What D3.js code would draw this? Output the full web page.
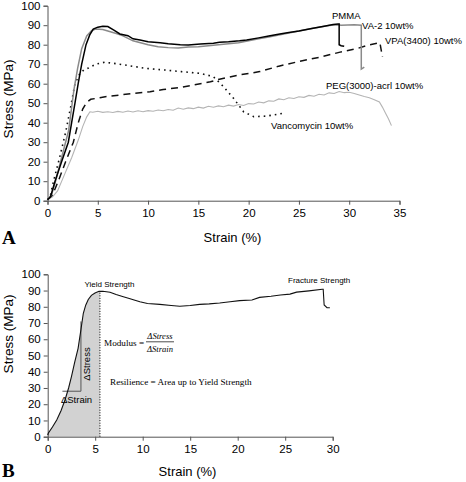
<!DOCTYPE html>
<html><head><meta charset="utf-8">
<script src="https://cdn.jsdelivr.net/npm/d3@7/dist/d3.min.js"></script>
<style>
html,body{margin:0;padding:0;background:#fff;}
svg{display:block;}
text{font-family:"Liberation Sans",Arial,sans-serif;fill:#000;}
.serif{font-family:"Liberation Serif","Times New Roman",serif;}
</style></head>
<body>
<script>
// ---------- Panel A data: [strain %, stress MPa] ----------
const pmma = [[0,0.5],[0.3,2],[0.75,10],[1.4,20],[2.07,30],[2.4,40],[2.73,50],[3.05,60],[3.4,70],[3.83,80],[4.2,85],[4.55,88],[5,89],[5.5,89.5],[6,89.3],[6.6,87.5],[7.2,85.5],[8,84.6],[8.5,83],[9.2,82.4],[10,81.5],[11.2,81],[12,80.5],[13.2,80],[14,79.8],[15.2,80.4],[16.5,80.7],[17.1,81.2],[18,81.5],[19.1,82],[19.8,82.4],[21,83.5],[22,84.5],[23.1,85.5],[24,86.3],[25,87],[26.4,88.4],[27.5,89.5],[28.4,90.3],[28.9,90.6],[29,90.6],[29,80],[29.2,79.5],[29.5,79.2]];
const va2 = [[0,0.5],[0.4,3],[0.8,10],[1.4,22],[2.1,36],[2.63,57],[3,68],[3.4,78],[3.9,84.5],[4.4,87.3],[4.8,88],[5.5,87.8],[6,87],[7,85.5],[7.5,84.5],[8.5,82],[10,80],[11,79],[12,78.5],[13,78.3],[14,78.8],[15,79],[16,79.5],[17,80],[18,80.5],[19,81],[20,82],[21,83],[22,84],[23,85],[24,86],[25,87],[26,88],[27,89],[28,89.8],[28.8,90.2],[29.2,90],[30.5,90.2],[31.2,90],[31.2,67.5],[31.5,68.5]];
const vpa = [[0,0.5],[0.5,3],[1.07,10],[1.8,20],[2.57,30],[3.06,40],[3.5,47],[3.9,50.5],[4.3,52],[5.2,52.8],[6,53.5],[7.2,54.2],[8.5,55],[10.2,55.9],[11.5,57],[13.2,58.1],[14.5,59.3],[16.2,61],[17.1,62.3],[19.1,64.5],[21.1,66.2],[23,69],[25.1,71.5],[27,73.5],[29.1,76.2],[30.1,77.3],[30.9,78.2],[31.9,79.8],[33.05,81],[33.3,73.8]];
const vanco = [[0,0.5],[0.3,3],[0.6,10],[1.2,22],[1.8,35],[2.3,48],[2.73,60],[3.2,65],[3.6,67],[4.06,68],[4.8,70],[5.7,71],[6.5,70.5],[7.7,69.6],[9.7,67.9],[11.7,67],[13.3,66.2],[15.2,65.3],[16.5,63.6],[17.5,58.5],[18.5,52.5],[19.5,45.6],[20.5,43.1],[21.8,43.4],[23.4,44.8]];
const peg = [[0,0.5],[0.5,2],[1,5],[1.74,14],[2.4,22],[3.06,31.1],[3.5,38],[3.9,43],[4.22,45.6],[4.5,45.4],[5,45.9],[5.5,45.3],[6,45.6],[6.5,45.2],[7,45.8],[7.5,45.4],[8,46],[8.5,45.5],[9,46.1],[9.5,45.6],[10,46.2],[10.5,45.9],[11,46.5],[11.5,46.1],[12,46.8],[12.5,46.4],[13,47.5],[13.5,46.9],[14,47.6],[14.5,47.2],[15,48],[15.5,47.5],[16,48.4],[16.5,47.9],[17,48.6],[17.5,48.2],[18,49],[18.5,48.5],[19,49.3],[19.5,48.8],[20,49.8],[20.5,49.6],[21,50.6],[21.5,50.2],[22,51.2],[22.5,51],[23,52.2],[23.5,51.8],[24,52.8],[24.5,52.4],[25,53.3],[25.5,53],[26,54],[26.5,53.6],[27,54.6],[27.5,54.2],[28,55.3],[28.5,55],[29,56],[29.5,55.4],[30,55.6],[30.5,55],[31,54.2],[31.5,53.4],[32,52.8],[32.5,51.8],[33,50.6],[33.3,48],[33.6,45],[33.9,42],[34.2,38.5]];
const seriesNames = ["PMMA","VA-2 10wt%","VPA(3400) 10wt%","Vancomycin 10wt%","PEG(3000)-acrl 10wt%"];
const xTicksA = [0,5,10,15,20,25,30,35];
const yTicks = [0,10,20,30,40,50,60,70,80,90,100];

// ---------- Panel B data ----------
const curveB = [[0,1],[0.06,2.1],[0.5,6],[0.95,10.3],[1.4,16],[1.82,22.6],[2.2,30],[2.5,37],[2.85,46],[3.2,54.4],[3.5,66],[3.75,76],[4,81],[4.27,84.5],[4.6,87],[4.98,88.5],[5.4,89.5],[5.8,89.6],[6.56,89],[7.2,87.5],[7.96,86.2],[8.5,85.3],[9.7,83.1],[10.5,82],[11.8,81.5],[13,80.8],[13.9,80.3],[15,80.8],[16,81.5],[17,81.8],[18.1,82.3],[19.2,83.1],[20.2,83.8],[21.5,84.2],[22.3,85.8],[23.5,86.5],[24.5,87.3],[25.5,87.8],[26.2,89],[27.5,89.8],[28.9,90.8],[29,90.8],[29.1,81.1],[29.4,79.4],[29.7,79.4]];
const yieldStrain = 5.5;
const triangle = [[1.55,28],[3.5,28],[3.5,71]];
const xTicksB = [0,5,10,15,20,25,30];

const svg = d3.select("body").append("svg").attr("width",466).attr("height",482);

function axes(g, x, y, xt, yt){
  const ax = g.append("g").attr("transform",`translate(0,${y.range()[0]})`)
    .call(d3.axisBottom(x).tickValues(xt).tickSize(4).tickPadding(4).tickFormat(d3.format("d")));
  const ay = g.append("g").attr("transform",`translate(${x.range()[0]},0)`)
    .call(d3.axisLeft(y).tickValues(yt).tickSize(4).tickPadding(3).tickFormat(d3.format("d")));
  [ax,ay].forEach(a=>{
    a.selectAll("path,line").attr("stroke","#555").attr("stroke-width",1);
    a.selectAll("text").style("font-size","11.5px").attr("fill","#000");
  });
}

// ---------- Panel A ----------
const xA = d3.scaleLinear().domain([0,35]).range([47.5,399.5]);
const yA = d3.scaleLinear().domain([0,100]).range([200.7,5.7]);
const gA = svg.append("g");
const lineA = d3.line().x(d=>xA(d[0])).y(d=>yA(d[1]));
axes(gA, xA, yA, xTicksA, yTicks);
const styles = [
  {d:peg, stroke:"#b4b4b4", w:1.1, dash:null},
  {d:vpa, stroke:"#111", w:1.5, dash:"7,5"},
  {d:vanco, stroke:"#111", w:1.6, dash:"1.6,4"},
  {d:va2, stroke:"#8a8a8a", w:1.5, dash:null},
  {d:pmma, stroke:"#000", w:1.5, dash:null}
];
styles.forEach(s=>{
  gA.append("path").datum(s.d).attr("d",lineA).attr("fill","none")
    .attr("stroke",s.stroke).attr("stroke-width",s.w)
    .attr("stroke-dasharray",s.dash);
});
const labA = [
  {t:seriesNames[0], x:332, y:18.5},
  {t:seriesNames[1], x:362, y:28.5},
  {t:seriesNames[2], x:385, y:44},
  {t:seriesNames[4], x:326, y:88.5},
  {t:seriesNames[3], x:271, y:128.5}
];
labA.forEach(l=>gA.append("text").attr("x",l.x).attr("y",l.y).style("font-size","9.5px").text(l.t));
gA.append("text").attr("x",232.5).attr("y",241.5).attr("text-anchor","middle").style("font-size","13px").text("Strain (%)");
gA.append("text").attr("transform","translate(12.5,99) rotate(-90)").attr("text-anchor","middle").style("font-size","13.5px").text("Stress (MPa)");
gA.append("text").attr("class","serif").attr("x",2).attr("y",244).style("font-size","19px").style("font-weight","bold").text("A");

// ---------- Panel B ----------
const xB = d3.scaleLinear().domain([0,30]).range([47.7,332.7]);
const yB = d3.scaleLinear().domain([0,100]).range([436.7,274.3]);
const gB = svg.append("g");
const areaPts = curveB.filter(d=>d[0]<=yieldStrain);
const yAtYield = 89.55;
areaPts.push([yieldStrain,yAtYield]);
gB.append("path").datum(areaPts)
  .attr("d",d3.area().x(d=>xB(d[0])).y0(yB(0)).y1(d=>yB(d[1])))
  .attr("fill","#d2d2d2");
axes(gB, xB, yB, xTicksB, yTicks);
gB.append("line").attr("x1",xB(yieldStrain)).attr("x2",xB(yieldStrain))
  .attr("y1",yB(0)).attr("y2",yB(yAtYield)).attr("stroke","#000").attr("stroke-width",1)
  .attr("stroke-dasharray","1,1.6");
gB.append("path").datum(triangle).attr("d",d3.line().x(d=>xB(d[0])).y(d=>yB(d[1])))
  .attr("fill","none").attr("stroke","#555").attr("stroke-width",1);
gB.append("path").datum(curveB).attr("d",d3.line().x(d=>xB(d[0])).y(d=>yB(d[1])))
  .attr("fill","none").attr("stroke","#111").attr("stroke-width",1.1);

gB.append("text").attr("x",109.5).attr("y",287).attr("text-anchor","middle").style("font-size","8px").text("Yield Strength");
gB.append("text").attr("x",288).attr("y",283).style("font-size","8px").text("Fracture Strength");
gB.append("text").attr("x",76.5).attr("y",402.5).attr("text-anchor","middle").style("font-size","9.5px").text("\u0394Strain");
gB.append("text").attr("transform","translate(89.5,364) rotate(-90)").attr("text-anchor","middle").style("font-size","9.5px").text("\u0394Stress");
gB.append("text").attr("class","serif").attr("x",104).attr("y",345.5).style("font-size","9.2px").text("Modulus =");
gB.append("text").attr("class","serif").attr("x",160).attr("y",339).attr("text-anchor","middle").style("font-size","8.6px").style("font-style","italic").text("\u0394Stress");
gB.append("line").attr("x1",146).attr("x2",174).attr("y1",341.8).attr("y2",341.8).attr("stroke","#000").attr("stroke-width",0.7);
gB.append("text").attr("class","serif").attr("x",160).attr("y",351.5).attr("text-anchor","middle").style("font-size","8.6px").style("font-style","italic").text("\u0394Strain");
gB.append("text").attr("class","serif").attr("x",110).attr("y",384.5).style("font-size","9.2px").text("Resilience = Area up to Yield Strength");
gB.append("text").attr("x",187.5).attr("y",476).attr("text-anchor","middle").style("font-size","13px").text("Strain (%)");
gB.append("text").attr("transform","translate(12.5,334) rotate(-90)").attr("text-anchor","middle").style("font-size","13.5px").text("Stress (MPa)");
gB.append("text").attr("class","serif").attr("x",2).attr("y",477).style("font-size","19px").style("font-weight","bold").text("B");
</script>
</body></html>
